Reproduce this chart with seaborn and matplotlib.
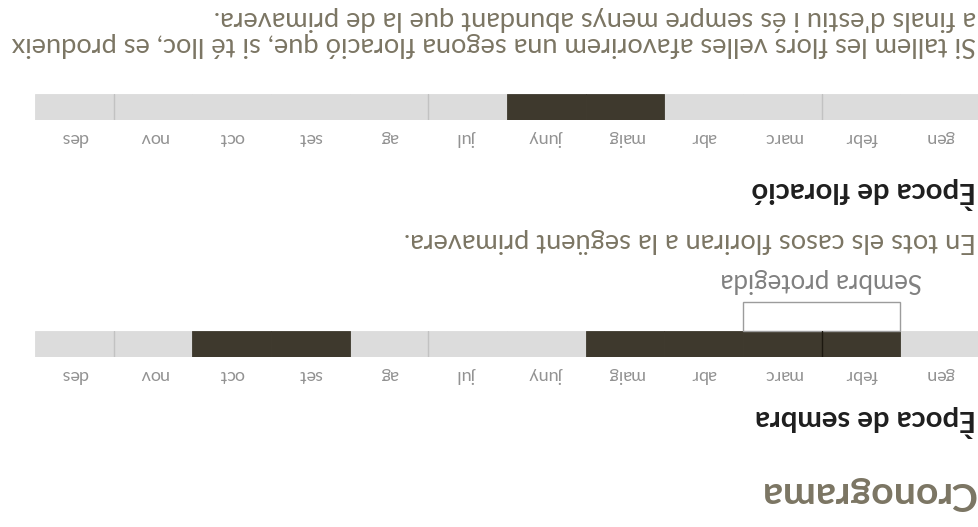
import numpy as np
import pandas as pd
import matplotlib
matplotlib.use("Agg")
import matplotlib.pyplot as plt
import matplotlib.transforms as mtransforms
from matplotlib.patches import Rectangle
import seaborn as sns

# --- data -------------------------------------------------------------
months = ["gen", "febr", "marc", "abr", "maig", "juny",
          "jul", "ag", "set", "oct", "nov", "des"]
sembra = [0, 1, 1, 1, 1, 0, 0, 0, 1, 1, 0, 0]      # 1 = sowing time
floracio = [0, 0, 0, 0, 1, 1, 0, 0, 0, 0, 0, 0]    # 1 = flowering time
sembra_protegida = ["febr", "marc"]
dividers = ["febr", "jul", "nov"]                  # thin line after these months

title = "Cronograma"
heading_sembra = "Època de sembra"
heading_floracio = "Època de floració"
note_sembra = "En tots els casos floriran a la següent primavera."
label_protegida = "Sembra protegida"
note_floracio = [
    "Si tallem les flors velles afavorirem una segona floració que, si té lloc, es produeix",
    "a finals d'estiu i és sempre menys abundant que la de primavera.",
]

# --- style ------------------------------------------------------------
GRAY = "#dcdcdc"
DARK = "#413a2a"
TAUPE = "#7b7563"
sns.set_theme(style="white")
plt.rcParams["font.family"] = ["Lato", "DejaVu Sans"]

W, H = 979, 527
fig = plt.figure(figsize=(W / 100, H / 100), dpi=100)
fig.patch.set_facecolor("white")


def fy(y_top):
    # the reference is drawn upside down, positions measured from its top edge
    return 1 - y_top / H


def put(y_top, s, **kw):
    return fig.text(976 / W, fy(y_top), s, rotation=180, rotation_mode="anchor",
                    ha="left", va="center", **kw)


def fit(txt, width_px):
    r = fig.canvas.get_renderer()
    w = txt.get_window_extent(renderer=r).width
    txt.set_fontsize(txt.get_fontsize() * width_px / w)
    return txt.get_fontsize()


def draw_bar(top, values):
    ax = fig.add_axes([35 / W, fy(top + 26), 944 / W, 26 / H])
    df = pd.DataFrame({"mes": months, "valor": 1,
                       "estat": ["actiu" if v else "inactiu" for v in values]})
    sns.barplot(data=df, x="mes", y="valor", hue="estat",
                palette={"actiu": DARK, "inactiu": GRAY},
                width=1, dodge=False, legend=False, linewidth=0, ax=ax)
    for p in ax.patches:
        p.set_edgecolor(p.get_facecolor())
        p.set_linewidth(0.6)
    for m in dividers:
        i = months.index(m)
        dark = values[i] and values[i + 1]
        ax.axvline(i + 0.5, color="#1c180f" if dark else "#c2c2c2", lw=1)
    ax.set_xlim(len(months) - 0.5, -0.5)
    ax.set_ylim(0, 1)
    ax.set_yticks([])
    ax.set_xlabel("")
    ax.set_ylabel("")
    ax.set_xticks(np.arange(len(months)), months)
    ax.tick_params(axis="x", length=0, pad=7, labelsize=13, labelcolor="#929292")
    for lab in ax.get_xticklabels():
        lab.set_rotation(180)
    sns.despine(ax=ax, left=True, bottom=True)
    return ax


# --- bars -------------------------------------------------------------
ax_f = draw_bar(94, floracio)
ax_s = draw_bar(331, sembra)

# protected sowing box hanging under the sowing bar
i0 = months.index(sembra_protegida[0])
trans = mtransforms.blended_transform_factory(ax_s.transData, ax_s.transAxes)
ax_s.add_patch(Rectangle((i0 - 0.5, 1), len(sembra_protegida), 29 / 26, transform=trans,
                         fill=False, ec="#9c9c9c", lw=1, clip_on=False))

# --- texts ------------------------------------------------------------
fig.canvas.draw()
t1 = put(44, note_floracio[0], color=TAUPE, fontsize=13)
body = fit(t1, 966)
put(19, note_floracio[1], color=TAUPE, fontsize=body)
put(241, note_sembra, color=TAUPE, fontsize=body)

h1 = put(421, heading_sembra, color="#1e1e1e", fontweight="bold", fontsize=14)
head = fit(h1, 222)
put(193, heading_floracio, color="#1e1e1e", fontweight="bold", fontsize=head)

tt = put(494, title, color=TAUPE, fontweight="bold", fontsize=20)
fit(tt, 215)

ax_s.text(i0 - 0.5 + len(sembra_protegida) / 2, (357 - 280) / 26, label_protegida,
          transform=trans, rotation=180, rotation_mode="anchor", ha="center", va="center",
          color="#808080", fontsize=body * 0.95)

fig.savefig("out.png", dpi=100)
